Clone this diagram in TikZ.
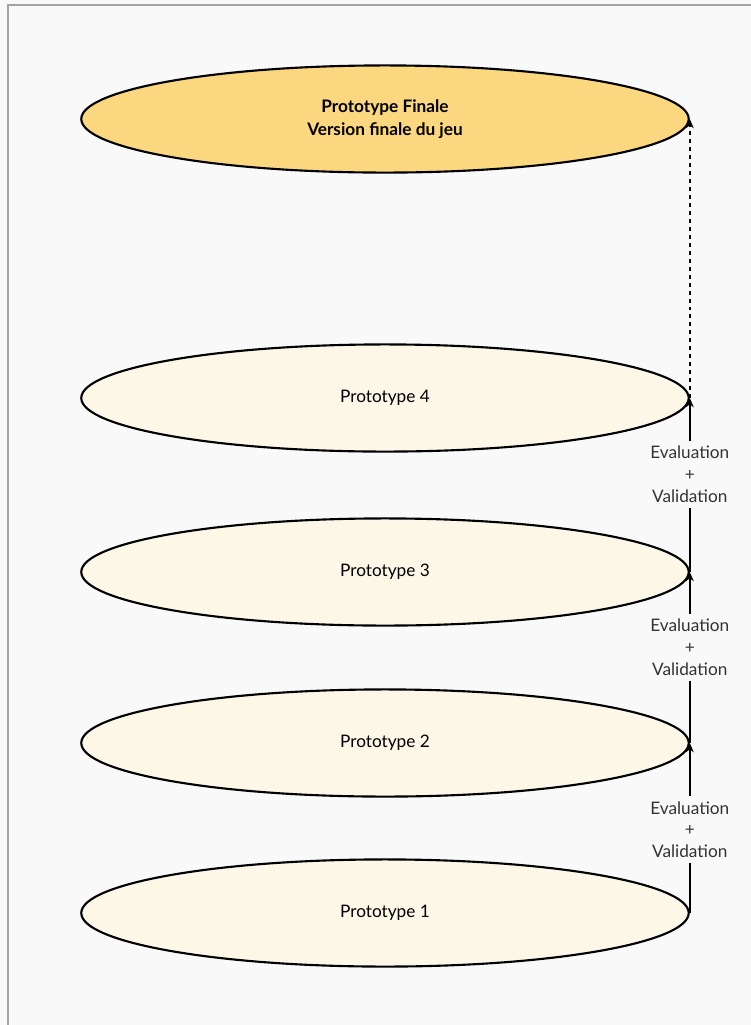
\documentclass[tikz,border=0pt]{standalone}
\usepackage{fontspec}
\setmainfont{Lato}
\usetikzlibrary{shapes.geometric,arrows.meta}
\definecolor{bgcol}{HTML}{F9F9F9}
\definecolor{framecol}{HTML}{A3A3A3}
\definecolor{finalcol}{HTML}{FBD880}
\definecolor{protocol}{HTML}{FDF7E8}
\definecolor{notecol}{HTML}{333333}
\begin{document}
\begin{tikzpicture}[x=0.0265cm,y=-0.0265cm,
  every node/.style={font=\fontsize{13}{15}\selectfont},
  proto/.style={ellipse,draw,line width=1.6pt,fill=protocol,inner sep=0pt,
                align=center,minimum width=16.1cm,minimum height=2.84cm},
  finale/.style={proto,fill=finalcol,font=\fontsize{13}{17}\selectfont\bfseries},
  edge/.style={-{Stealth[length=7pt,width=6pt]},line width=1.5pt},
  weight/.style={fill=bgcol,text=notecol,align=center,inner sep=4pt,
                 font=\fontsize{13}{16.5}\selectfont}]
\useasboundingbox (0,0) rectangle (751,1025);
\fill[bgcol] (0,0) rectangle (751,1025);
\draw[framecol,line width=2pt] (8,1030) -- (8,5) -- (760,5);
\node[finale] (fin) at (385,119) {Prototype Finale\\Version finale du jeu};
\node[proto] (p4) at (385,398) {Prototype 4};
\node[proto] (p3) at (385,572) {Prototype 3};
\node[proto] (p2) at (385,743) {Prototype 2};
\node[proto] (p1) at (385,913) {Prototype 1};
\draw[edge] (p1.east) -- node[weight,pos=0.49] {Evaluation\\+\\Validation} (p2.east);
\draw[edge] (p2.east) -- node[weight,pos=0.56] {Evaluation\\+\\Validation} (p3.east);
\draw[edge] (p3.east) -- node[weight,pos=0.56] {Evaluation\\+\\Validation} (p4.east);
\draw[edge,dashed] (p4.east) -- (fin.east);
\end{tikzpicture}
\end{document}
